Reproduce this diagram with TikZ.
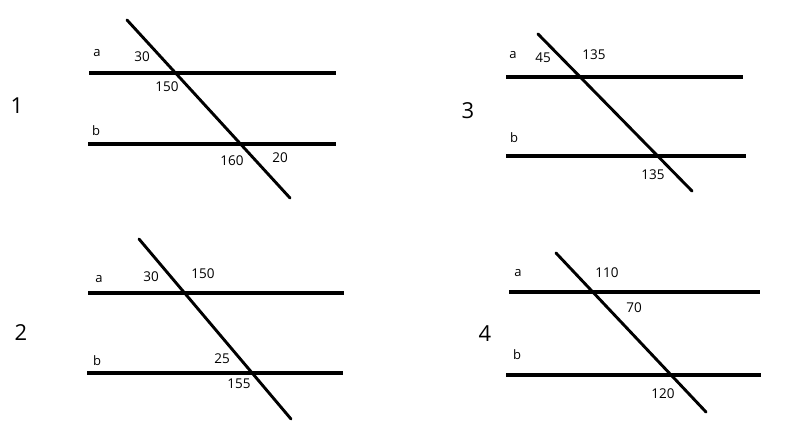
\documentclass[tikz,border=0pt]{standalone}
\usepackage{fontspec}
\setmainfont{Open Sans}
\usetikzlibrary{positioning}

\begin{document}
\begin{tikzpicture}[
        x=1pt, y=-1pt,
        parline/.style={
            line width=3.3pt,
            black
        },
        cutline/.style={
            line width=2.9pt,
            black,
            line cap=round
        },
        anglelabel/.style={
            inner sep=0pt,
            font=\fontsize{13.5}{16}\selectfont
        },
        linename/.style={
            inner sep=0pt,
            font=\fontsize{13}{16}\selectfont
        },
        panelnum/.style={
            inner sep=0pt,
            font=\fontsize{22}{26}\selectfont
        }
    ]

    \useasboundingbox (0,0) rectangle (800,447);

    % panel 1
    \coordinate (a1w) at (89,73);
    \coordinate (a1e) at (336,73);
    \coordinate (b1w) at (88,144);
    \coordinate (b1e) at (336,144);
    \coordinate (t1n) at (127,20);
    \coordinate (t1s) at (290,198);

    \draw [parline] (a1w) -- (a1e);
    \draw [parline] (b1w) -- (b1e);
    \draw [cutline] (t1n) -- (t1s);

    \node (num1) [panelnum] at (17,106) {1};
    \node (lbla1) [linename] at (97,53) {a};
    \node (lblb1) [linename] at (96,131) {b};
    \node (ang30a) [anglelabel] at (142,57) {30};
    \node (ang150a) [anglelabel] at (167,87) {150};
    \node (ang160) [anglelabel] at (232,161) {160};
    \node (ang20) [anglelabel] at (280,158) {20};

    % panel 2
    \coordinate (a2w) at (88,293);
    \coordinate (a2e) at (344,293);
    \coordinate (b2w) at (87,373);
    \coordinate (b2e) at (343,373);
    \coordinate (t2n) at (139,239);
    \coordinate (t2s) at (291,419);

    \draw [parline] (a2w) -- (a2e);
    \draw [parline] (b2w) -- (b2e);
    \draw [cutline] (t2n) -- (t2s);

    \node (num2) [panelnum] at (21,333) {2};
    \node (lbla2) [linename] at (99,279) {a};
    \node (lblb2) [linename] at (97,361) {b};
    \node (ang30b) [anglelabel] at (151,277) {30};
    \node (ang150b) [anglelabel] at (203,274) {150};
    \node (ang25) [anglelabel] at (222,359) {25};
    \node (ang155) [anglelabel] at (239,384) {155};

    % panel 3
    \coordinate (a3w) at (506,77);
    \coordinate (a3e) at (743,77);
    \coordinate (b3w) at (506,156);
    \coordinate (b3e) at (746,156);
    \coordinate (t3n) at (538,34);
    \coordinate (t3s) at (692,191);

    \draw [parline] (a3w) -- (a3e);
    \draw [parline] (b3w) -- (b3e);
    \draw [cutline] (t3n) -- (t3s);

    \node (num3) [panelnum] at (468,111) {3};
    \node (lbla3) [linename] at (513,55) {a};
    \node (lblb3) [linename] at (514,138) {b};
    \node (ang45) [anglelabel] at (543,58) {45};
    \node (ang135a) [anglelabel] at (594,55) {135};
    \node (ang135b) [anglelabel] at (653,175) {135};

    % panel 4
    \coordinate (a4w) at (509,292);
    \coordinate (a4e) at (760,292);
    \coordinate (b4w) at (506,375);
    \coordinate (b4e) at (761,375);
    \coordinate (t4n) at (556,253);
    \coordinate (t4s) at (706,412);

    \draw [parline] (a4w) -- (a4e);
    \draw [parline] (b4w) -- (b4e);
    \draw [cutline] (t4n) -- (t4s);

    \node (num4) [panelnum] at (485,334) {4};
    \node (lbla4) [linename] at (518,273) {a};
    \node (lblb4) [linename] at (517,355) {b};
    \node (ang110) [anglelabel] at (607,273) {110};
    \node (ang70) [anglelabel] at (634,308) {70};
    \node (ang120) [anglelabel] at (663,394) {120};

\end{tikzpicture}
\end{document}
